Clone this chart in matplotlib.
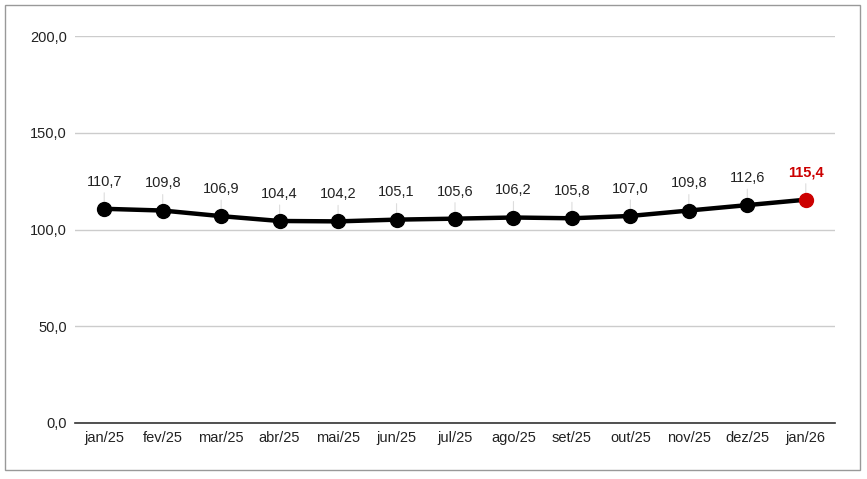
import matplotlib.pyplot as plt
from matplotlib.patches import Rectangle

plt.rcParams['font.family'] = ['Liberation Sans', 'DejaVu Sans']

months = ["jan/25", "fev/25", "mar/25", "abr/25", "mai/25", "jun/25", "jul/25",
          "ago/25", "set/25", "out/25", "nov/25", "dez/25", "jan/26"]
values = [110.7, 109.8, 106.9, 104.4, 104.2, 105.1, 105.6, 106.2, 105.8, 107.0, 109.8, 112.6, 115.4]
yticks = [0, 50, 100, 150, 200]

def fmt(v):
    return f"{v:.1f}".replace(".", ",")

fig = plt.figure(figsize=(8.67, 4.79), dpi=100)
fig.patches.append(Rectangle((5 / 867, 9 / 479), 855 / 867, 465 / 479, transform=fig.transFigure,
                             fill=False, edgecolor="#999999", linewidth=1))
ax = fig.add_axes([75 / 867, 56 / 479, 760 / 867, 387 / 479])

x = list(range(len(months)))
ax.plot(x, values, color="black", linewidth=3.2, zorder=3)
ax.plot(x[:-1], values[:-1], "o", color="black", markersize=10, zorder=4)
ax.plot(x[-1], values[-1], "o", color="#cc0000", markersize=10, zorder=4)

for i, v in enumerate(values):
    last = i == len(values) - 1
    ax.annotate(fmt(v), (i, v), xytext=(0, 14.5), textcoords="offset points",
                ha="center", va="bottom", fontsize=10.5,
                color="#cc0000" if last else "#222222",
                fontweight="bold" if last else "normal")
    # thin leader line from point up to the label
    ax.annotate("", (i, v), xytext=(0, 11.5), textcoords="offset points",
                arrowprops=dict(arrowstyle="-", color="#dddddd", linewidth=0.8,
                                shrinkA=0, shrinkB=0), zorder=1)

ax.set_xlim(-0.5, len(months) - 0.5)
ax.set_ylim(0, 200)
ax.set_yticks(yticks)
ax.set_yticklabels([fmt(t) for t in yticks], fontsize=10.5, color="#222222")
ax.set_xticks(x)
ax.set_xticklabels(months, fontsize=10.5, color="#222222")
ax.tick_params(length=0, pad=6)
ax.grid(axis="y", color="#cccccc", linewidth=1)
for s in ["top", "right", "left"]:
    ax.spines[s].set_visible(False)
ax.spines["bottom"].set_color("#333333")
ax.spines["bottom"].set_linewidth(1.2)
ax.set_axisbelow(True)

fig.savefig("out.png", dpi=100)
